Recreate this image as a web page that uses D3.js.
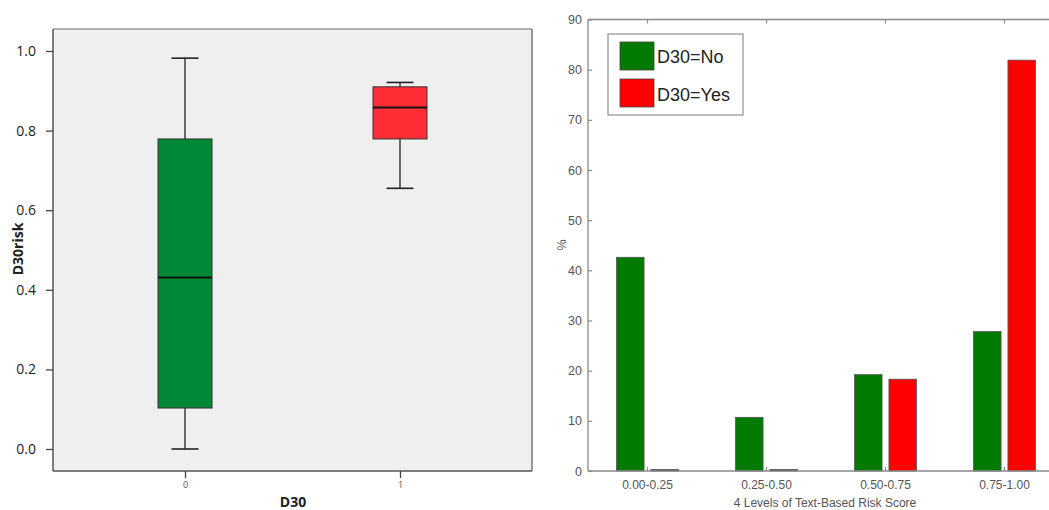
<!DOCTYPE html>
<html>
<head>
<meta charset="utf-8">
<script src="https://cdn.jsdelivr.net/npm/d3@7"></script>
<style>
  body { margin: 0; background: #fff; }
  svg { display: block; }
</style>
</head>
<body>
<svg id="chart" width="1049" height="510"></svg>
<script>
// ---- left panel: box plot data ----
const boxGroups = ["0", "1"];
const boxMin    = [0.0, 0.655];
const boxQ1     = [0.103, 0.779];
const boxMedian = [0.431, 0.858];
const boxQ3     = [0.779, 0.910];
const boxMax    = [0.982, 0.921];
const boxColors = ["#008837", "#ff2d36"];
const boxTicks  = [0, 0.2, 0.4, 0.6, 0.8, 1.0];

// ---- right panel: grouped bar data ----
const levels    = ["0.00-0.25", "0.25-0.50", "0.50-0.75", "0.75-1.00"];
const seriesNames = ["D30=No", "D30=Yes"];
const noValues  = [42.6, 10.7, 19.2, 27.8];
const yesValues = [0, 0, 18.3, 81.9];
const barColors = ["#007a00", "#ff0000"];
const barTicks  = [0, 10, 20, 30, 40, 50, 60, 70, 80, 90];

const svg = d3.select("#chart");

/////////////// box plot ///////////////
let L = { left: 53, right: 532, top: 29, bottom: 471 };

let xBox = d3.scaleLinear()
  .domain([-0.614, 1.614])
  .range([L.left, L.right]);

let yBox = d3.scaleLinear()
  .domain([0, 1])
  .range([449, 51]);

svg.append("rect")
  .attr("x", L.left).attr("y", L.top)
  .attr("width", L.right - L.left).attr("height", L.bottom - L.top)
  .attr("fill", "#efefef");

// frame: light top, darker sides
svg.append("line").attr("x1", L.left).attr("x2", L.right).attr("y1", L.top).attr("y2", L.top)
  .attr("stroke", "#9a9a9a").attr("stroke-width", 1.5);
svg.append("line").attr("x1", L.right).attr("x2", L.right).attr("y1", L.top).attr("y2", L.bottom)
  .attr("stroke", "#777").attr("stroke-width", 1.5);

let yAxisL = d3.axisLeft(yBox).tickValues(boxTicks).tickFormat(d3.format(".1f")).tickSize(7).tickPadding(10);
let gyl = svg.append("g")
  .attr("transform", "translate(" + L.left + ",0)")
  .call(yAxisL);
gyl.select(".domain").attr("d", "M0," + L.top + "V" + L.bottom).attr("stroke", "#555").attr("stroke-width", 1.5);
gyl.selectAll(".tick line").attr("stroke", "#444").attr("stroke-width", 1.3);
gyl.selectAll(".tick text").attr("font-family", "Open Sans").attr("font-size", "14px").attr("fill", "#222");

let xAxisL = d3.axisBottom(xBox).tickValues([0, 1]).tickFormat(d3.format("d")).tickSize(7).tickPadding(4);
let gxl = svg.append("g")
  .attr("transform", "translate(0," + L.bottom + ")")
  .call(xAxisL);
gxl.select(".domain").attr("d", "M" + L.left + ",0H" + L.right).attr("stroke", "#555").attr("stroke-width", 1.5);
gxl.selectAll(".tick line").attr("stroke", "#444").attr("stroke-width", 1.3);
gxl.selectAll(".tick text").attr("font-family", "Open Sans").attr("font-size", "9px").attr("fill", "#555");

let boxW = 54, capW = 27;
boxGroups.forEach(function(g, i) {
  let cx = xBox(+g);
  // whiskers
  svg.append("line").attr("x1", cx).attr("x2", cx)
    .attr("y1", yBox(boxMax[i])).attr("y2", yBox(boxQ3[i]))
    .attr("stroke", "#222").attr("stroke-width", 1.3);
  svg.append("line").attr("x1", cx).attr("x2", cx)
    .attr("y1", yBox(boxQ1[i])).attr("y2", yBox(boxMin[i]))
    .attr("stroke", "#222").attr("stroke-width", 1.3);
  [boxMax[i], boxMin[i]].forEach(function(v) {
    svg.append("line").attr("x1", cx - capW / 2).attr("x2", cx + capW / 2)
      .attr("y1", yBox(v)).attr("y2", yBox(v))
      .attr("stroke", "#222").attr("stroke-width", 1.6);
  });
  svg.append("rect")
    .attr("x", cx - boxW / 2).attr("y", yBox(boxQ3[i]))
    .attr("width", boxW).attr("height", yBox(boxQ1[i]) - yBox(boxQ3[i]))
    .attr("fill", boxColors[i]).attr("stroke", "#333").attr("stroke-width", 1);
  svg.append("line").attr("x1", cx - boxW / 2).attr("x2", cx + boxW / 2)
    .attr("y1", yBox(boxMedian[i])).attr("y2", yBox(boxMedian[i]))
    .attr("stroke", "#111").attr("stroke-width", 2);
});

svg.append("text")
  .attr("transform", "translate(23,249) rotate(-90)")
  .attr("text-anchor", "middle")
  .attr("font-family", "Open Sans").attr("font-weight", "bold").attr("font-size", "14px")
  .attr("fill", "#222")
  .text("D30risk");

svg.append("text")
  .attr("x", 293).attr("y", 507)
  .attr("text-anchor", "middle")
  .attr("font-family", "Open Sans").attr("font-weight", "bold").attr("font-size", "14px")
  .attr("fill", "#222")
  .text("D30");

/////////////// grouped bars ///////////////
let R = { left: 588, right: 1064, top: 19.5, bottom: 471 };

let x0 = d3.scaleBand().domain(levels).range([R.left, R.right]);
let x1 = d3.scaleBand().domain(seriesNames).range([-31, 31]).paddingInner(0.2);
let yBar = d3.scaleLinear().domain([0, 90]).range([R.bottom, R.top]);

let axisGrey = "#8a8a8a";

// bars
let rows = levels.map(function(l, i) { return { level: l, values: [noValues[i], yesValues[i]] }; });
svg.append("g").selectAll("g")
  .data(rows)
  .enter().append("g")
  .attr("transform", function(d) { return "translate(" + (x0(d.level) + x0.bandwidth() / 2) + ",0)"; })
  .selectAll("rect")
  .data(function(d) { return d.values.map(function(v, j) { return { name: seriesNames[j], v: v, j: j }; }); })
  .enter().append("rect")
  .attr("x", function(d) { return x1(d.name); })
  .attr("y", function(d) { return Math.min(yBar(d.v), R.bottom - 1.5); })
  .attr("width", x1.bandwidth())
  .attr("height", function(d) { return Math.max(R.bottom - yBar(d.v), 1.5); })
  .attr("fill", function(d) { return d.v > 0 ? barColors[d.j] : "#333"; })
  .attr("stroke", "#555").attr("stroke-width", 0.8);

// top frame with inward ticks
svg.append("line").attr("x1", R.left).attr("x2", 1049).attr("y1", R.top).attr("y2", R.top)
  .attr("stroke", axisGrey).attr("stroke-width", 1.3);
let xTop = d3.axisBottom(x0).tickSize(4).tickFormat("");
let gxt = svg.append("g").attr("transform", "translate(0," + R.top + ")").call(xTop);
gxt.select(".domain").remove();
gxt.selectAll(".tick line").attr("stroke", axisGrey).attr("stroke-width", 1.2);

let xAxisR = d3.axisBottom(x0).tickSize(0).tickPadding(9);
let gxr = svg.append("g").attr("transform", "translate(0," + R.bottom + ")").call(xAxisR);
gxr.select(".domain").attr("d", "M" + R.left + ",0H1049").attr("stroke", axisGrey).attr("stroke-width", 1.5);
gxr.selectAll(".tick text").attr("font-family", "Liberation Sans").attr("font-size", "12px").attr("fill", "#555");
gxr.selectAll(".tick").append("line").attr("y1", 0).attr("y2", -4).attr("stroke", axisGrey).attr("stroke-width", 1.2);

let yAxisR = d3.axisLeft(yBar).tickValues(barTicks).tickSize(-4).tickPadding(6);
let gyr = svg.append("g").attr("transform", "translate(" + R.left + ",0)").call(yAxisR);
gyr.select(".domain").attr("d", "M0," + R.top + "V" + R.bottom).attr("stroke", axisGrey).attr("stroke-width", 1.3);
gyr.selectAll(".tick line").attr("stroke", axisGrey).attr("stroke-width", 1.2);
gyr.selectAll(".tick text").attr("font-family", "Liberation Sans").attr("font-size", "12.5px").attr("fill", "#555");

svg.append("text")
  .attr("transform", "translate(566,245) rotate(-90)")
  .attr("text-anchor", "middle")
  .attr("font-family", "Liberation Sans").attr("font-size", "12.5px").attr("fill", "#555")
  .text("%");

svg.append("text")
  .attr("x", 825).attr("y", 507)
  .attr("text-anchor", "middle")
  .attr("font-family", "Liberation Sans").attr("font-size", "12px").attr("fill", "#555")
  .text("4 Levels of Text-Based Risk Score");

// legend
let leg = svg.append("g").attr("transform", "translate(608,34)");
leg.append("rect").attr("x", 0).attr("y", 0).attr("width", 135).attr("height", 81)
  .attr("fill", "#fff").attr("stroke", "#999").attr("stroke-width", 1.3);
seriesNames.forEach(function(n, i) {
  leg.append("rect").attr("x", 12).attr("y", 8 + i * 37).attr("width", 34).attr("height", 28)
    .attr("fill", barColors[i]).attr("stroke", "#444").attr("stroke-width", 0.8);
  leg.append("text").attr("x", 49).attr("y", 29 + i * 38)
    .attr("font-family", "Liberation Sans").attr("font-size", "18px").attr("fill", "#222")
    .text(n);
});
</script>
</body>
</html>
